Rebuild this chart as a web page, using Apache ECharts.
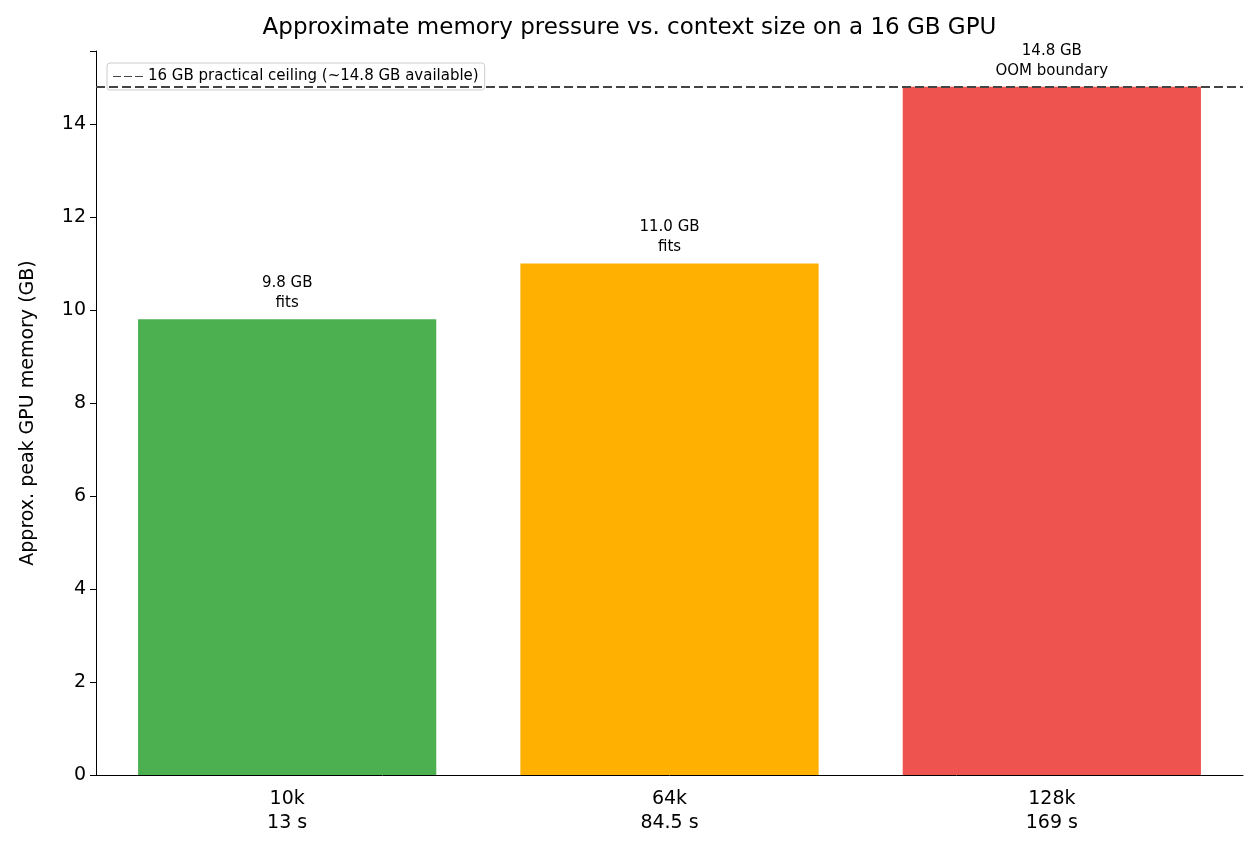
<!DOCTYPE html>
<html><head><meta charset="utf-8">
<script src="https://cdn.jsdelivr.net/npm/echarts@6/dist/echarts.min.js"></script>
<style>html,body{margin:0;padding:0;background:#fff}#c{width:1259px;height:859px}</style>
</head><body><div id="c"></div>
<script>
const categories = ['10k\n13 s', '64k\n84.5 s', '128k\n169 s'];
const values = [9.8, 11.0, 14.8];
const statusLabels = ['fits', 'fits', 'OOM boundary'];
const colors = ['#4caf50', '#ffb000', '#ef5350'];
const ceiling = 14.8;
const yTicks = [0, 2, 4, 6, 8, 10, 12, 14];

const chart = echarts.init(document.getElementById('c'));
const F = 'DejaVu Sans';
chart.setOption({
  animation: false,
  title: { text: 'Approximate memory pressure vs. context size on a 16 GB GPU', left: 'center', top: 12,
    textStyle: { fontFamily: F, fontSize: 23, fontWeight: 'normal', color: '#000' } },
  grid: { left: 96, right: 16, top: 51, bottom: 84 },
  legend: { show: true, left: 107, top: 63, itemWidth: 30, itemHeight: 10,
    data: [{ name: '16 GB practical ceiling (~14.8 GB available)', icon: 'path://M0,5L8,5L8,6L0,6ZM11,5L19,5L19,6L11,6ZM22,5L30,5L30,6L22,6Z' }],
    borderColor: '#ccc', borderWidth: 1, borderRadius: 3, padding: [6, 6, 6, 6], backgroundColor: 'rgba(255,255,255,0.8)',
    textStyle: { fontFamily: F, fontSize: 15, color: '#000' } },
  xAxis: { type: 'category', data: categories,
    axisLine: { lineStyle: { color: '#000' } }, axisTick: { alignWithLabel: true, lineStyle: { color: '#000' }, length: 6 },
    axisLabel: { fontFamily: F, fontSize: 19, color: '#000', lineHeight: 24, margin: 12 } },
  yAxis: { type: 'value', min: 0, max: 15.57, interval: 2,
    name: 'Approx. peak GPU memory (GB)', nameLocation: 'middle', nameGap: 58,
    nameTextStyle: { fontFamily: F, fontSize: 19, color: '#000' },
    axisLine: { show: true, lineStyle: { color: '#000' } }, axisTick: { show: true, lineStyle: { color: '#000' }, length: 6 },
    splitLine: { show: false },
    axisLabel: { fontFamily: F, fontSize: 19, color: '#000', margin: 10,
      formatter: v => yTicks.includes(v) ? String(v) : '' } },
  series: [
    { type: 'bar', barWidth: '78%',
      data: values.map((v, i) => ({ value: v, itemStyle: { color: colors[i] } })),
      label: { show: true, position: 'top', distance: 6, fontFamily: F, fontSize: 15, color: '#000', lineHeight: 20,
        formatter: p => p.value.toFixed(1) + ' GB\n' + statusLabels[p.dataIndex] } },
    { type: 'line', name: '16 GB practical ceiling (~14.8 GB available)', data: [],
      itemStyle: { color: '#444' }, lineStyle: { color: '#444', type: 'dashed' },
      markLine: { silent: true, symbol: 'none', label: { show: false },
        lineStyle: { color: '#444', type: [9, 4], width: 2 }, data: [{ yAxis: ceiling }] } }
  ]
});
</script></body></html>
